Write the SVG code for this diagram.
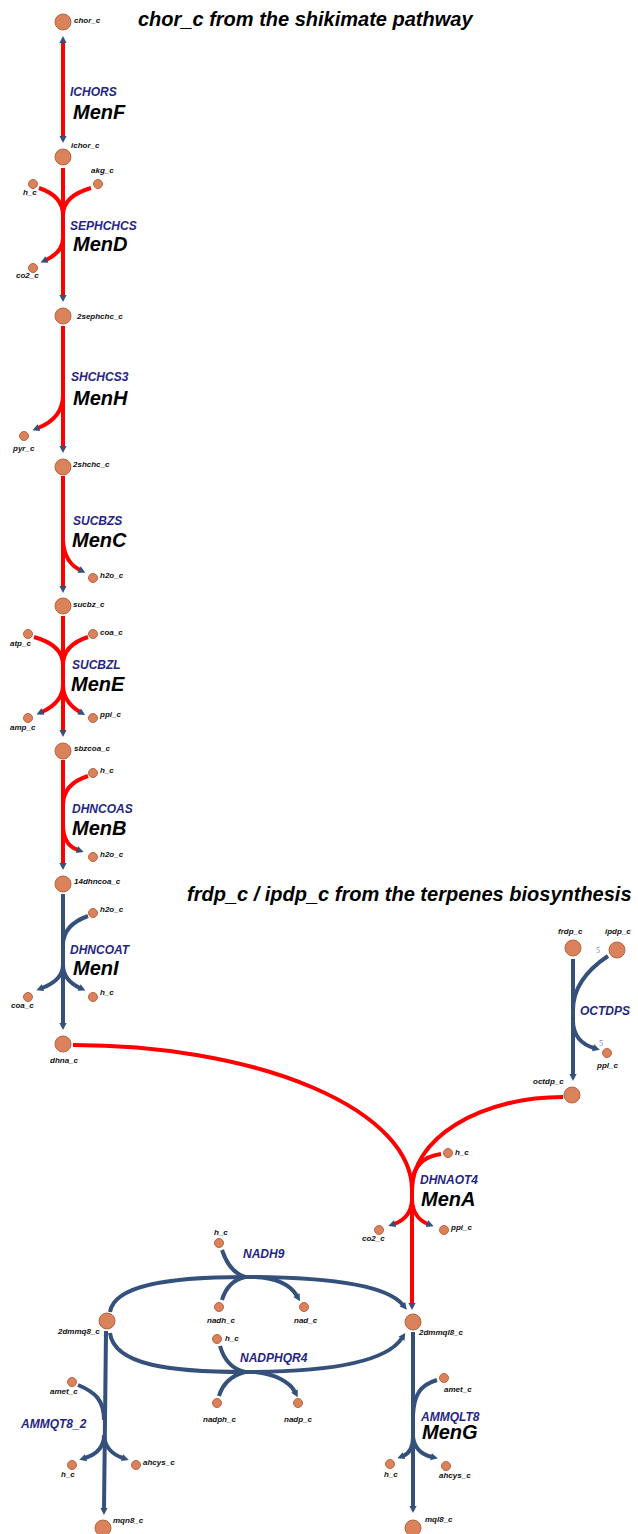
<svg xmlns="http://www.w3.org/2000/svg" width="638" height="1534" viewBox="0 0 638 1534">
  <style>
    .bg { fill: #ffffff; }
    .met { fill: #d9825b; stroke: #b9653f; stroke-width: 1; }
    .ml { font-family: "Liberation Sans", Arial, sans-serif; font-weight: bold; font-style: italic; font-size: 8px; fill: #111111; }
    .rx { font-family: "Liberation Sans", Arial, sans-serif; font-weight: bold; font-style: italic; font-size: 12px; fill: #262682; }
    .gene { font-family: "Liberation Sans", Arial, sans-serif; font-weight: bold; font-style: italic; font-size: 20px; fill: #000000; }
    .title { font-family: "Liberation Sans", Arial, sans-serif; font-weight: bold; font-style: italic; font-size: 20px; fill: #000000; }
    .st { font-family: "Liberation Serif", "Times New Roman", serif; font-size: 8px; fill: #6f86ad; }
    .red { fill: none; stroke: #ff0000; stroke-width: 4; }
    .blue { fill: none; stroke: #35507b; stroke-width: 4; }
    .arr { marker-end: url(#ah); }
  </style>
  <defs>
    <marker id="ah" markerUnits="userSpaceOnUse" markerWidth="10" markerHeight="10" viewBox="0 -5 8 10" refX="1" refY="0" orient="auto">
      <path d="M0,-3.6 L7,0 L0,3.6 z" fill="#35507b"/>
    </marker>
    <marker id="ahs" markerUnits="userSpaceOnUse" markerWidth="10" markerHeight="10" viewBox="0 -5 8 10" refX="1" refY="0" orient="auto-start-reverse">
      <path d="M0,-3.6 L7,0 L0,3.6 z" fill="#35507b"/>
    </marker>
  </defs>
  <rect class="bg" x="0" y="0" width="638" height="1534"/>

  <!-- section headings -->
  <text class="title" x="138" y="26">chor_c from the shikimate pathway</text>
  <text class="title" x="187" y="901">frdp_c / ipdp_c from the terpenes biosynthesis</text>

  <!-- reaction edges -->
  <g id="connectors">
    <!-- ICHORS (reversible) -->
    <path class="red" d="M63,42 L63,137" marker-start="url(#ahs)" marker-end="url(#ah)"/>
    <!-- SEPHCHCS -->
    <path class="red arr" d="M63,168 L63,296"/>
    <path class="red" d="M39,188 Q63,196 63,215"/>
    <path class="red" d="M91,188 Q63,196 63,215"/>
    <path class="red arr" d="M63,238 Q63,252 46,260"/>
    <!-- SHCHCS3 -->
    <path class="red arr" d="M63,326 L63,447"/>
    <path class="red arr" d="M63,395 Q63,418 38,428"/>
    <!-- SUCBZS -->
    <path class="red arr" d="M63,476 L63,587"/>
    <path class="red arr" d="M63,540 Q64,562 80,570"/>
    <!-- SUCBZL -->
    <path class="red arr" d="M63,616 L63,731"/>
    <path class="red" d="M34,637 Q63,645 63,665"/>
    <path class="red" d="M88,637 Q63,645 63,665"/>
    <path class="red arr" d="M63,685 Q63,702 42,712"/>
    <path class="red arr" d="M63,685 Q63,702 80,712"/>
    <!-- DHNCOAS -->
    <path class="red arr" d="M63,760 L63,864"/>
    <path class="red" d="M88,776 Q63,784 63,805"/>
    <path class="red arr" d="M63,825 Q63,845 78,850"/>
    <!-- DHNCOAT -->
    <path class="blue arr" d="M63,894 L63,1024"/>
    <path class="blue" d="M88,916 Q63,925 63,945"/>
    <path class="blue arr" d="M63,965 Q63,980 42,988"/>
    <path class="blue arr" d="M63,965 Q63,980 80,988"/>
    <!-- OCTDPS -->
    <path class="blue arr" d="M573,959 L573,1075"/>
    <path class="blue" d="M608,956 C590,968 573,985 573,1010"/>
    <path class="blue arr" d="M573,1022 Q574,1042 594,1048"/>
    <!-- DHNAOT4 -->
    <path class="red" d="M73,1045 A339,145 0 0 1 412,1190"/>
    <path class="red" d="M563,1097 A151,93 0 0 0 412,1190"/>
    <path class="red arr" d="M412,1188 L412,1304"/>
    <path class="red" d="M441,1154 Q413,1158 412,1185"/>
    <path class="red arr" d="M412,1200 Q411,1218 394,1224"/>
    <path class="red arr" d="M412,1200 Q413,1218 428,1224"/>
    <!-- NADH9 -->
    <path class="blue arr" d="M110,1312 C114,1285 170,1277 245,1277 C320,1277 385,1283 403,1305"/>
    <path class="blue" d="M222,1250 C226,1262 232,1273 245,1277"/>
    <path class="blue" d="M245,1277 C232,1280 225,1290 222,1300"/>
    <path class="blue arr" d="M255,1277 C275,1278 290,1284 297,1296"/>
    <!-- NADPHQR4 -->
    <path class="blue arr" d="M110,1333 C114,1365 170,1372 245,1372 C320,1372 385,1364 402,1338"/>
    <path class="blue" d="M220,1346 C224,1360 232,1369 245,1372"/>
    <path class="blue" d="M245,1372 C230,1376 222,1386 219,1396"/>
    <path class="blue arr" d="M255,1372 C275,1374 290,1382 295,1392"/>
    <!-- AMMQT8_2 -->
    <path class="blue arr" d="M106,1331 L104,1509"/>
    <path class="blue" d="M78,1385 C95,1392 104,1400 104,1420"/>
    <path class="blue arr" d="M104,1435 Q104,1452 85,1458"/>
    <path class="blue arr" d="M104,1435 Q105,1452 123,1458"/>
    <!-- AMMQLT8 -->
    <path class="blue arr" d="M413,1332 L413,1507"/>
    <path class="blue" d="M437,1380 C420,1385 414,1395 413,1415"/>
    <path class="blue arr" d="M413,1437 Q413,1452 403,1456"/>
    <path class="blue arr" d="M413,1437 Q415,1453 432,1457"/>
  </g>

  <!-- stoichiometry -->
  <text class="st" x="596" y="953">5</text>
  <text class="st" x="599" y="1046">5</text>

  <!-- reaction names -->
  <g id="reactions">
    <text class="rx" x="70" y="96">ICHORS</text><text class="gene" x="73" y="119">MenF</text>
    <text class="rx" x="70" y="230">SEPHCHCS</text><text class="gene" x="73" y="251">MenD</text>
    <text class="rx" x="71" y="381">SHCHCS3</text><text class="gene" x="73" y="405">MenH</text>
    <text class="rx" x="73" y="525">SUCBZS</text><text class="gene" x="72" y="547">MenC</text>
    <text class="rx" x="72" y="669">SUCBZL</text><text class="gene" x="71" y="691">MenE</text>
    <text class="rx" x="72" y="813">DHNCOAS</text><text class="gene" x="72" y="835">MenB</text>
    <text class="rx" x="70" y="954">DHNCOAT</text><text class="gene" x="73" y="975">MenI</text>
    <text class="rx" x="580" y="1015">OCTDPS</text>
    <text class="rx" x="420" y="1184">DHNAOT4</text><text class="gene" x="421" y="1206">MenA</text>
    <text class="rx" x="243" y="1258">NADH9</text>
    <text class="rx" x="240" y="1362">NADPHQR4</text>
    <text class="rx" x="21" y="1428">AMMQT8_2</text>
    <text class="rx" x="421" y="1421">AMMQLT8</text><text class="gene" x="422" y="1439">MenG</text>
  </g>

  <!-- metabolites -->
  <g id="chor_c"><circle class="met" cx="63" cy="22" r="8"/><text class="ml" x="74" y="23">chor_c</text></g>
  <g id="ichor_c"><circle class="met" cx="63" cy="157" r="8"/><text class="ml" x="71" y="148">ichor_c</text></g>
  <g id="h_c_1"><circle class="met" cx="33" cy="184" r="4.5"/><text class="ml" x="23" y="195">h_c</text></g>
  <g id="akg_c"><circle class="met" cx="98" cy="184" r="4.5"/><text class="ml" x="91" y="173">akg_c</text></g>
  <g id="co2_c_1"><circle class="met" cx="33" cy="268" r="4.5"/><text class="ml" x="16" y="278">co2_c</text></g>
  <g id="2sephchc_c"><circle class="met" cx="63" cy="316" r="8"/><text class="ml" x="77" y="319">2sephchc_c</text></g>
  <g id="pyr_c"><circle class="met" cx="24" cy="436" r="4.5"/><text class="ml" x="13" y="451">pyr_c</text></g>
  <g id="2shchc_c"><circle class="met" cx="63" cy="467" r="8"/><text class="ml" x="73" y="467">2shchc_c</text></g>
  <g id="h2o_c_1"><circle class="met" cx="93" cy="578" r="4.5"/><text class="ml" x="100" y="578">h2o_c</text></g>
  <g id="sucbz_c"><circle class="met" cx="63" cy="606" r="8"/><text class="ml" x="73" y="607">sucbz_c</text></g>
  <g id="atp_c"><circle class="met" cx="28" cy="634" r="4.5"/><text class="ml" x="10" y="646">atp_c</text></g>
  <g id="coa_c_1"><circle class="met" cx="93" cy="634" r="4.5"/><text class="ml" x="100" y="635">coa_c</text></g>
  <g id="amp_c"><circle class="met" cx="28" cy="718" r="4.5"/><text class="ml" x="10" y="730">amp_c</text></g>
  <g id="ppi_c_1"><circle class="met" cx="93" cy="718" r="4.5"/><text class="ml" x="100" y="717">ppi_c</text></g>
  <g id="sbzcoa_c"><circle class="met" cx="63" cy="751" r="8"/><text class="ml" x="74" y="751">sbzcoa_c</text></g>
  <g id="h_c_2"><circle class="met" cx="93" cy="773" r="4.5"/><text class="ml" x="100" y="773">h_c</text></g>
  <g id="h2o_c_2"><circle class="met" cx="93" cy="857" r="4.5"/><text class="ml" x="100" y="857">h2o_c</text></g>
  <g id="14dhncoa_c"><circle class="met" cx="63" cy="884" r="8"/><text class="ml" x="74" y="884">14dhncoa_c</text></g>
  <g id="h2o_c_3"><circle class="met" cx="93" cy="913" r="4.5"/><text class="ml" x="100" y="912">h2o_c</text></g>
  <g id="coa_c_2"><circle class="met" cx="28" cy="997" r="4.5"/><text class="ml" x="11" y="1008">coa_c</text></g>
  <g id="h_c_3"><circle class="met" cx="93" cy="997" r="4.5"/><text class="ml" x="100" y="995">h_c</text></g>
  <g id="dhna_c"><circle class="met" cx="63" cy="1044" r="8"/><text class="ml" x="50" y="1063">dhna_c</text></g>
  <g id="frdp_c"><circle class="met" cx="573" cy="948" r="8"/><text class="ml" x="558" y="934">frdp_c</text></g>
  <g id="ipdp_c"><circle class="met" cx="617" cy="950" r="8"/><text class="ml" x="605" y="934">ipdp_c</text></g>
  <g id="ppl_c"><circle class="met" cx="607" cy="1053" r="4.5"/><text class="ml" x="597" y="1068">ppl_c</text></g>
  <g id="octdp_c"><circle class="met" cx="572" cy="1095" r="8"/><text class="ml" x="533" y="1084">octdp_c</text></g>
  <g id="h_c_4"><circle class="met" cx="448" cy="1153" r="4.5"/><text class="ml" x="455" y="1155">h_c</text></g>
  <g id="co2_c_2"><circle class="met" cx="379" cy="1230" r="4.5"/><text class="ml" x="362" y="1241">co2_c</text></g>
  <g id="ppi_c_2"><circle class="met" cx="444" cy="1230" r="4.5"/><text class="ml" x="451" y="1230">ppi_c</text></g>
  <g id="h_c_5"><circle class="met" cx="219" cy="1243" r="4.5"/><text class="ml" x="214" y="1235">h_c</text></g>
  <g id="nadh_c"><circle class="met" cx="219" cy="1307" r="4.5"/><text class="ml" x="207" y="1323">nadh_c</text></g>
  <g id="nad_c"><circle class="met" cx="304" cy="1307" r="4.5"/><text class="ml" x="294" y="1323">nad_c</text></g>
  <g id="2dmmq8_c"><circle class="met" cx="107" cy="1321" r="8"/><text class="ml" x="58" y="1334">2dmmq8_c</text></g>
  <g id="2dmmql8_c"><circle class="met" cx="413" cy="1322" r="8"/><text class="ml" x="419" y="1335">2dmmql8_c</text></g>
  <g id="h_c_6"><circle class="met" cx="217" cy="1339" r="4.5"/><text class="ml" x="225" y="1341">h_c</text></g>
  <g id="nadph_c"><circle class="met" cx="217" cy="1403" r="4.5"/><text class="ml" x="203" y="1422">nadph_c</text></g>
  <g id="nadp_c"><circle class="met" cx="298" cy="1403" r="4.5"/><text class="ml" x="284" y="1422">nadp_c</text></g>
  <g id="amet_c_1"><circle class="met" cx="72" cy="1382" r="4.5"/><text class="ml" x="50" y="1394">amet_c</text></g>
  <g id="h_c_7"><circle class="met" cx="72" cy="1465" r="4.5"/><text class="ml" x="61" y="1477">h_c</text></g>
  <g id="ahcys_c_1"><circle class="met" cx="136" cy="1465" r="4.5"/><text class="ml" x="143" y="1465">ahcys_c</text></g>
  <g id="mqn8_c"><circle class="met" cx="103" cy="1528" r="8"/><text class="ml" x="113" y="1523">mqn8_c</text></g>
  <g id="amet_c_2"><circle class="met" cx="444" cy="1378" r="4.5"/><text class="ml" x="444" y="1392">amet_c</text></g>
  <g id="h_c_8"><circle class="met" cx="390" cy="1464" r="4.5"/><text class="ml" x="384" y="1477">h_c</text></g>
  <g id="ahcys_c_2"><circle class="met" cx="446" cy="1466" r="4.5"/><text class="ml" x="439" y="1478">ahcys_c</text></g>
  <g id="mql8_c"><circle class="met" cx="413" cy="1528" r="8"/><text class="ml" x="425" y="1522">mql8_c</text></g>
</svg>
